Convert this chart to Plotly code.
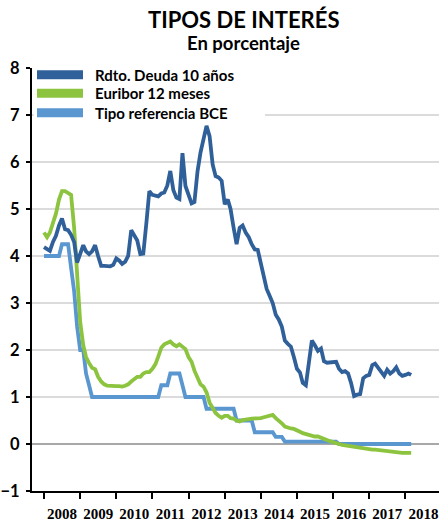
import pandas as pd
import plotly.graph_objects as go

# ---- data (monthly, Jan 2008 - Mar 2018) ----
dates = pd.date_range("2008-01-01", "2018-03-01", freq="MS")

rdto_10y = [
    4.19, 4.15, 4.11, 4.30, 4.43, 4.65, 4.80, 4.57, 4.55, 4.45, 4.30, 3.86,
    4.05, 4.23, 4.10, 4.04, 4.10, 4.23, 4.00, 3.79, 3.79, 3.78, 3.78, 3.81,
    3.95, 3.90, 3.83, 3.88, 4.00, 4.55, 4.45, 4.33, 4.04, 4.05, 4.70, 5.38,
    5.30, 5.28, 5.27, 5.33, 5.35, 5.50, 5.81, 5.40, 5.24, 5.21, 6.19, 5.49,
    5.30, 5.12, 5.15, 5.80, 6.20, 6.48, 6.77, 6.55, 5.95, 5.70, 5.67, 5.60,
    5.10, 5.20, 5.00, 4.60, 4.25, 4.60, 4.65, 4.50, 4.40, 4.25, 4.14, 4.13,
    3.85, 3.60, 3.30, 3.15, 3.00, 2.75, 2.65, 2.50, 2.20, 2.13, 2.07, 1.85,
    1.60, 1.52, 1.30, 1.25, 1.75, 2.20, 2.10, 1.98, 2.03, 1.76, 1.73, 1.73,
    1.73, 1.75, 1.60, 1.53, 1.55, 1.50, 1.30, 1.02, 1.05, 1.06, 1.40, 1.45,
    1.47, 1.68, 1.71, 1.62, 1.55, 1.45, 1.58, 1.50, 1.55, 1.63, 1.50, 1.45,
    1.47, 1.50, 1.47,
]

euribor_12m = [
    4.50, 4.40, 4.50, 4.72, 4.90, 5.20, 5.38, 5.38, 5.35, 5.30, 4.60, 3.50,
    2.60, 2.10, 1.85, 1.72, 1.62, 1.59, 1.43, 1.33, 1.27, 1.24, 1.23, 1.24,
    1.23, 1.23, 1.22, 1.24, 1.27, 1.33, 1.38, 1.43, 1.43, 1.50, 1.53, 1.53,
    1.60, 1.70, 1.86, 2.05, 2.12, 2.15, 2.18, 2.12, 2.08, 2.12, 2.08, 2.02,
    1.85, 1.75, 1.56, 1.40, 1.27, 1.22, 1.10, 0.88, 0.75, 0.66, 0.60, 0.56,
    0.60, 0.60, 0.55, 0.54, 0.50, 0.48, 0.51, 0.53, 0.53, 0.54, 0.54, 0.53,
    0.55, 0.57, 0.58, 0.60, 0.62, 0.55, 0.50, 0.44, 0.37, 0.34, 0.33, 0.32,
    0.30, 0.26, 0.23, 0.21, 0.18, 0.17, 0.16, 0.16, 0.13, 0.12, 0.08, 0.06,
    0.04, 0.01, 0.00, -0.02, -0.03, -0.05, -0.06, -0.07, -0.08, -0.09, -0.10, -0.10,
    -0.11, -0.12, -0.12, -0.13, -0.14, -0.14, -0.15, -0.16, -0.17, -0.18, -0.19, -0.19,
    -0.19, -0.19, -0.19,
]

tipo_bce = [
    4.00, 4.00, 4.00, 4.00, 4.00, 4.00, 4.25, 4.25, 4.25, 3.75, 3.25, 2.50,
    2.00, 2.00, 1.50, 1.25, 1.00, 1.00, 1.00, 1.00, 1.00, 1.00, 1.00, 1.00,
    1.00, 1.00, 1.00, 1.00, 1.00, 1.00, 1.00, 1.00, 1.00, 1.00, 1.00, 1.00,
    1.00, 1.00, 1.00, 1.25, 1.25, 1.25, 1.50, 1.50, 1.50, 1.50, 1.25, 1.00,
    1.00, 1.00, 1.00, 1.00, 1.00, 1.00, 0.75, 0.75, 0.75, 0.75, 0.75, 0.75,
    0.75, 0.75, 0.75, 0.75, 0.50, 0.50, 0.50, 0.50, 0.50, 0.50, 0.25, 0.25,
    0.25, 0.25, 0.25, 0.25, 0.25, 0.15, 0.15, 0.15, 0.05, 0.05, 0.05, 0.05,
    0.05, 0.05, 0.05, 0.05, 0.05, 0.05, 0.05, 0.05, 0.05, 0.05, 0.05, 0.05,
    0.05, 0.05, 0.00, 0.00, 0.00, 0.00, 0.00, 0.00, 0.00, 0.00, 0.00, 0.00,
    0.00, 0.00, 0.00, 0.00, 0.00, 0.00, 0.00, 0.00, 0.00, 0.00, 0.00, 0.00,
    0.00, 0.00, 0.00,
]

series_names = ["Rdto. Deuda 10 años", "Euribor 12 meses", "Tipo referencia BCE"]
series_values = [rdto_10y, euribor_12m, tipo_bce]
series_colors = ["#30609A", "#8CC43F", "#5A96CF"]

y_ticks = list(range(-1, 9))
grid_levels = [1, 2, 3, 4, 5, 6, 7]

FONT = "Lato"
NARROW = "Liberation Sans Narrow"

fig = go.Figure()

# data lines (drawn in reverse so the dark line is on top)
for name, vals, col in reversed(list(zip(series_names, series_values, series_colors))):
    fig.add_trace(go.Scatter(
        x=dates, y=vals, mode="lines", name=name, showlegend=False,
        line=dict(color=col, width=3.8), hoverinfo="skip",
    ))

shapes = []
for g in grid_levels:
    shapes.append(dict(type="line", xref="paper", yref="y", x0=0, x1=1, y0=g, y1=g,
                       line=dict(color="#CFCFCF", width=1.5), layer="below"))
shapes.append(dict(type="line", xref="paper", yref="y", x0=0, x1=1, y0=0, y1=0,
                   line=dict(color="#A8A8A8", width=2.2), layer="below"))
# legend box background (white, behind the data lines)
shapes.append(dict(type="rect", xref="paper", yref="y", x0=0.004, x1=0.5725, y0=6.87, y1=8,
                   fillcolor="white", line=dict(width=0), layer="below"))

# legend (swatches + labels)
legend_rows_y = [0.9842, 0.9402, 0.8943]
annotations = []
for name, col, ly in zip(series_names, series_colors, legend_rows_y):
    shapes.append(dict(type="line", xref="paper", yref="paper", x0=0.0123, x1=0.1253,
                       y0=ly, y1=ly, line=dict(color=col, width=9), layer="above"))
    annotations.append(dict(text=name, xref="paper", yref="paper", x=0.1499, y=ly,
                            xanchor="left", yanchor="middle", showarrow=False,
                            font=dict(family=FONT, size=15, color="black", weight="bold")))

annotations += [
    dict(text="<b>TIPOS DE INTERÉS</b>", xref="paper", yref="paper",
         x=0.52, y=1.0, yshift=49, xanchor="center", yanchor="middle",
         showarrow=False, font=dict(family=FONT, size=22, color="black")),
    dict(text="<b>En porcentaje</b>", xref="paper", yref="paper",
         x=0.52, y=1.0, yshift=25, xanchor="center", yanchor="middle",
         showarrow=False, font=dict(family=FONT, size=18.5, color="black")),
]

fig.update_layout(
    width=439, height=523,
    margin=dict(l=32, r=0, t=68, b=32, autoexpand=False),
    paper_bgcolor="white", plot_bgcolor="white",
    font=dict(family=FONT, color="black"),
    shapes=shapes,
    annotations=annotations,
    showlegend=False,
    xaxis=dict(
        type="date", automargin=False,
        range=["2007-09-02", "2018-12-07"],
        tick0="2008-01-01", dtick="M12", tickformat="%Y",
        ticklabelmode="period", ticklabeloverflow="allow",
        ticks="outside", ticklen=6, tickwidth=1.5, tickcolor="black",
        ticklabelstandoff=2,
        showline=True, linecolor="black", linewidth=2,
        showgrid=False, zeroline=False,
        tickfont=dict(family=NARROW, size=15, color="black", weight="bold"),
    ),
    yaxis=dict(
        range=[-1, 8], tickvals=y_ticks, automargin=False,
        ticks="outside", ticklen=4, tickwidth=1.5, tickcolor="black",
        ticklabelstandoff=3,
        showline=True, linecolor="black", linewidth=2,
        showgrid=False, zeroline=False,
        tickfont=dict(family=FONT, size=16.5, color="black", weight="bold"),
    ),
)

fig.write_html("out.html", config={"displayModeBar": False},
               post_script="document.body.style.margin='0px';")
